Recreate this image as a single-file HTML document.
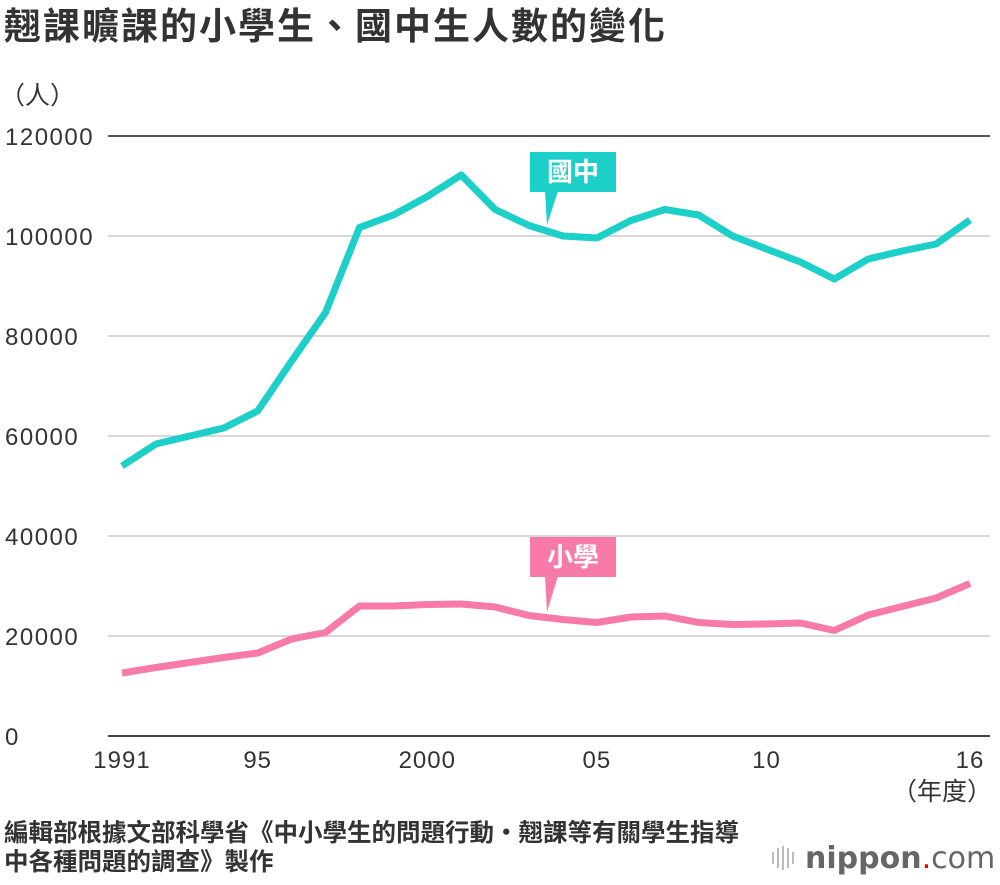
<!DOCTYPE html>
<html><head><meta charset="utf-8"><style>
body{margin:0;width:1000px;height:880px;background:#fff;font-family:"Liberation Sans","Noto Sans CJK TC",sans-serif;overflow:hidden}
</style></head><body>
<svg id="c" width="1000" height="880" xmlns="http://www.w3.org/2000/svg">
<text x="4" y="39" font-size="37" font-weight="bold" fill="#333" letter-spacing="2" font-family="Liberation Sans, Noto Sans CJK TC, sans-serif">翹課曠課的小學生、國中生人數的變化</text>
<text x="0" y="104" font-size="25" fill="#333" font-family="Liberation Sans, Noto Sans CJK TC, sans-serif">（人）</text>
<g id="grid"></g><g id="lines"></g>
<text x="992" y="800" font-size="25" text-anchor="end" fill="#333" font-family="Liberation Sans, Noto Sans CJK TC, sans-serif">（年度）</text>
<g>
<rect x="530" y="152" width="86" height="40" fill="#1ccfc9"/><polygon points="545,191 558,191 547,225" fill="#1ccfc9"/>
<text x="573" y="181" font-size="26" font-weight="bold" fill="#fff" text-anchor="middle" font-family="Liberation Sans, Noto Sans CJK TC, sans-serif">國中</text></g>
<g>
<rect x="530" y="537" width="86" height="40" fill="#f77aa8"/><polygon points="545,576 558,576 547,612" fill="#f77aa8"/>
<text x="573" y="566" font-size="26" font-weight="bold" fill="#fff" text-anchor="middle" font-family="Liberation Sans, Noto Sans CJK TC, sans-serif">小學</text></g>
<text x="4" y="841" font-size="24.5" font-weight="bold" fill="#333" font-family="Liberation Sans, Noto Sans CJK TC, sans-serif">編輯部根據文部科學省《中小學生的問題行動‧翹課等有關學生指導</text>
<text x="4" y="870" font-size="24.5" font-weight="bold" fill="#333" font-family="Liberation Sans, Noto Sans CJK TC, sans-serif">中各種問題的調查》製作</text>
<g>
<g fill="#bbb"><rect x="772" y="852" width="2" height="12"/><rect x="777" y="848" width="2" height="20"/><rect x="782" y="846" width="2" height="24"/><rect x="787" y="848" width="2" height="20"/><rect x="792" y="852" width="2" height="12"/></g>
<text x="805" y="868" font-size="30" fill="#666" font-family="DejaVu Sans, sans-serif"><tspan font-weight="bold">nippon</tspan><tspan fill="#e00">.</tspan><tspan>com</tspan></text></g>
</svg>
<script>
const years=[1991,1992,1993,1994,1995,1996,1997,1998,1999,2000,2001,2002,2003,2004,2005,2006,2007,2008,2009,2010,2011,2012,2013,2014,2015,2016];
const junior=[54000,58400,60000,61600,65000,75000,84700,101700,104200,107900,112200,105300,102100,100000,99600,103100,105300,104200,100000,97400,94800,91400,95400,97000,98400,103200];
const elementary=[12600,13700,14700,15700,16600,19400,20700,26000,26000,26300,26400,25800,24100,23300,22700,23800,24000,22700,22300,22400,22600,21100,24200,25900,27600,30500];
const yTicks=[0,20000,40000,60000,80000,100000,120000];
const xTickYears=[1991,1995,2000,2005,2010,2016];
const xTickLabels=["1991","95","2000","05","10","16"];
const NS="http://www.w3.org/2000/svg";
const x=y=>122+(y-1991)*(970-122)/25;
const yv=v=>736-v*600/120000;
const grid=document.getElementById('grid'),lines=document.getElementById('lines');
function mk(t,a,p){const e=document.createElementNS(NS,t);for(const k in a)e.setAttribute(k,a[k]);p.appendChild(e);return e;}
yTicks.forEach(v=>{
 const l=mk('line',{x1:108,x2:990,y1:yv(v),y2:yv(v),stroke:v==120000?'#555':(v==0?'#444':'#ccc'),'stroke-width':v==0||v==120000?2:1.5},grid);
 
 
 const t=mk('text',{x:5,y:yv(v)+9,'font-size':24,'letter-spacing':1.5,fill:'#333'},grid);t.textContent=v;
 
 
});
xTickYears.forEach((yr,i)=>{
 const t=mk('text',{x:x(yr),y:768,'font-size':24,'letter-spacing':1,fill:'#333','text-anchor':'middle'},grid);t.textContent=xTickLabels[i];
 
 
});
function series(d,c,n){
 const p=mk('polyline',{points:d.map((v,i)=>x(years[i])+','+yv(v)).join(' '),fill:'none',stroke:c,'stroke-width':7,'stroke-linejoin':'round'},lines);
 
 
}
series(junior,'#1ccfc9','line-junior-high');
series(elementary,'#f77aa8','line-elementary');
</script>
</body></html>
